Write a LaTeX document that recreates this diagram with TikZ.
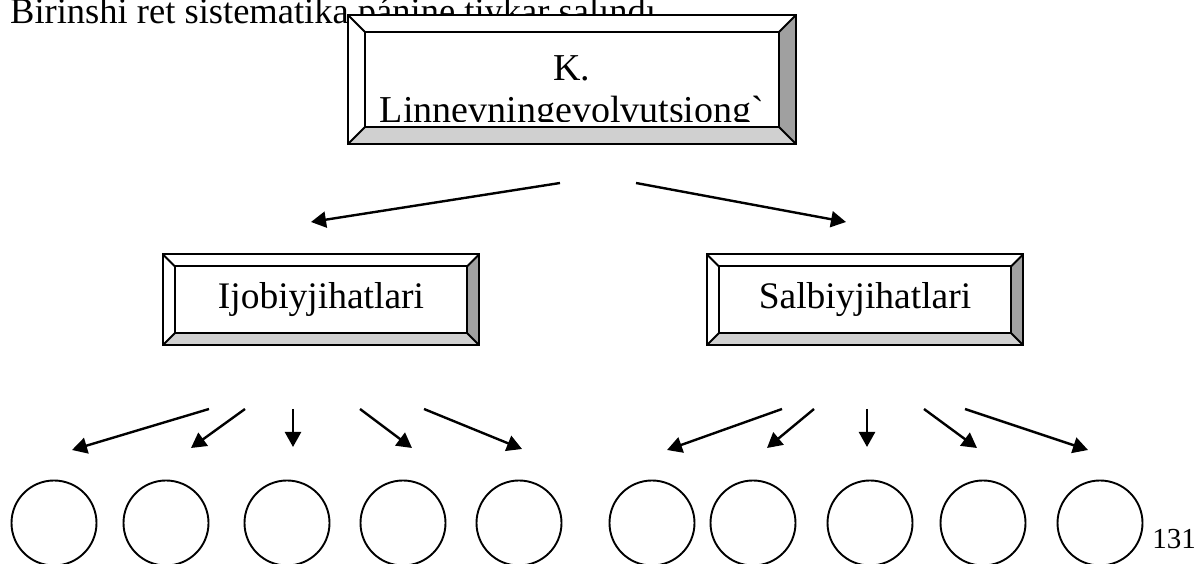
\documentclass[tikz,border=0pt]{standalone}
\usepackage{fontspec}
\setmainfont{Liberation Serif}[Ligatures=TeXOff]
\usetikzlibrary{arrows.meta,calc}
\definecolor{bevdark}{RGB}{160,160,160}
\definecolor{bevlight}{RGB}{208,208,208}
\tikzset{
  innerbox/.style={draw=none, fill=white, inner sep=0pt, rectangle},
  bevelline/.style={line width=2pt, line join=miter},
  arrowline/.style={line width=2.4pt, -{Triangle[length=15pt,width=16pt]}},
  hollow/.style={circle, draw, line width=1.9pt, minimum size=85pt, inner sep=0pt},
  boxtext/.style={font=\fontsize{37.5}{43}\selectfont},
  toptext/.style={font=\fontsize{38}{43}\selectfont, inner sep=0pt},
  headtext/.style={font=\fontsize{36.5}{42}\selectfont, inner sep=0pt},
}
\newcommand\bevelaround[2]{%
  \coordinate (#1-ONW) at ($(#1.north west)+(-#2,#2)$);
  \coordinate (#1-ONE) at ($(#1.north east)+(#2,#2)$);
  \coordinate (#1-OSW) at ($(#1.south west)+(-#2,-#2)$);
  \coordinate (#1-OSE) at ($(#1.south east)+(#2,-#2)$);
  \fill[white] (#1-ONW) -- (#1-ONE) -- (#1.north east) -- (#1.north west) -- cycle;
  \fill[white] (#1-ONW) -- (#1.north west) -- (#1.south west) -- (#1-OSW) -- cycle;
  \fill[bevdark] (#1-ONE) -- (#1-OSE) -- (#1.south east) -- (#1.north east) -- cycle;
  \fill[bevlight] (#1-OSW) -- (#1-OSE) -- (#1.south east) -- (#1.south west) -- cycle;
  \draw[bevelline] (#1-ONW) rectangle (#1-OSE);
  \draw[bevelline] (#1.north west) rectangle (#1.south east);
  \draw[bevelline] (#1-ONW) -- (#1.north west) (#1-ONE) -- (#1.north east)
                   (#1-OSW) -- (#1.south west) (#1-OSE) -- (#1.south east);
}
\begin{document}
\begin{tikzpicture}[x=1pt,y=1pt]
\useasboundingbox (0,0) rectangle (1201,564);
\fill[white] (0,0) rectangle (1201,564);
\clip (0,0) rectangle (1201,564);

% heading (partly hidden by the top box)
\node[headtext, anchor=base west] (head) at (10,540) {Birinshi ret sistematika pánine tiykar salındı};

% top box
\node[innerbox, minimum width=414pt, minimum height=95pt] (top) at (572,484.5) {};
\bevelaround{top}{16.5}
\begin{scope}
  \clip (top.north west) rectangle ($(top.south east)+(0,5.5)$);
  \node[toptext, anchor=base] (topK) at (572,483.5) {K.};
  \node[toptext, anchor=base] (topL) at (572,441) {Linnevningevolvutsiong`};
\end{scope}

% second row boxes
\node[innerbox, boxtext, minimum width=292pt, minimum height=66.5pt] (pos) at (321,264.25) {Ijobiyjihatlari};
\bevelaround{pos}{12}
\node[innerbox, boxtext, minimum width=292pt, minimum height=66.5pt] (neg) at (865,264.25) {Salbiyjihatlari};
\bevelaround{neg}{12}

% top arrows
\coordinate (ta1) at (560,381); \coordinate (tb1) at (311,342);
\coordinate (ta2) at (636,381); \coordinate (tb2) at (846,342);
\draw[arrowline] (ta1) -- (tb1);
\draw[arrowline] (ta2) -- (tb2);

% circles
\foreach \i/\x in {1/54,2/166,3/287,4/403,5/519,6/652,7/753,8/870,9/983,10/1100}{
  \node[hollow] (c\i) at (\x,41) {};
}

% lower arrows
\foreach \i/\sx/\tx/\ty in {1/209/72/114, 2/245/191/116, 3/293/293/117, 4/360/412/116, 5/424/522/115,
                             6/782/667/114, 7/814/767/116, 8/867/867/117, 9/924/977/116, 10/965/1088/114}{
  \coordinate (la\i) at (\sx,155);
  \coordinate (lb\i) at (\tx,\ty);
  \draw[arrowline] (la\i) -- (lb\i);
}

% page number
\node[font=\fontsize{29}{33}\selectfont, inner sep=0pt, anchor=base east] (pagenum) at (1196,15) {131};
\end{tikzpicture}
\end{document}
